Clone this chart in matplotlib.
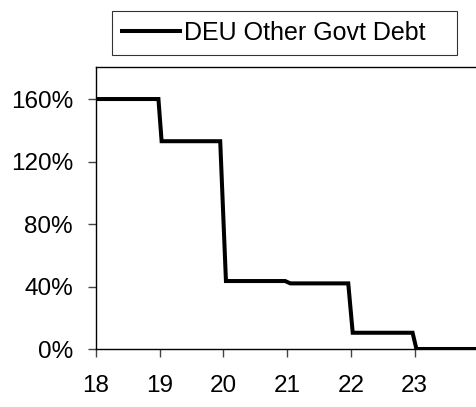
import matplotlib
matplotlib.use("Agg")
import matplotlib.pyplot as plt
from matplotlib.ticker import FuncFormatter

plt.rcParams['font.family'] = ['Liberation Sans', 'DejaVu Sans']

series_name = "DEU Other Govt Debt"
x_vals = [18.0, 18.98, 19.03, 19.95, 20.04, 20.97, 21.05, 21.96, 22.03, 22.97, 23.03, 24.2]
y_vals = [160, 160, 133, 133, 43.5, 43.5, 42, 42, 10.4, 10.4, 0, 0]
x_ticks = [18, 19, 20, 21, 22, 23]
y_ticks = [0, 40, 80, 120, 160]

W, H = 476, 407
fig = plt.figure(figsize=(W / 100, H / 100), dpi=100)
left, right, bottom, top = 96, 476 * 1.02, 349, 67
ax = fig.add_axes([left / W, (H - bottom) / H, (right - left) / W, (bottom - top) / H])

ax.plot(x_vals, y_vals, color='black', lw=2.9, solid_joinstyle='miter', label=series_name)

px_per_unit = 63.7
ax.set_xlim(18, 18 + (right - left) / px_per_unit)
ax.set_ylim(0, 180.5)
ax.set_xticks(x_ticks)
ax.set_yticks(y_ticks)
ax.yaxis.set_major_formatter(FuncFormatter(lambda v, p: f"{int(v)}%"))

for s in ['left', 'top', 'bottom']:
    ax.spines[s].set_color('black')
    ax.spines[s].set_linewidth(1.0)
ax.spines['right'].set_visible(False)

ax.tick_params(axis='y', direction='out', length=6, width=1, color='#444444',
               pad=10.5, labelsize=17.5, labelcolor='black')
ax.tick_params(axis='x', direction='out', length=6, width=1, color='#444444',
               pad=12.5, labelsize=17.5, labelcolor='black')

leg = fig.legend(loc='lower left', bbox_to_anchor=(112 / W, 1 - 55 / H, 345 / W, 45 / H),
                 mode='expand', borderaxespad=0,
                 fontsize=18, frameon=True, fancybox=False, edgecolor='black',
                 handlelength=2.3, handletextpad=0.2, borderpad=0.4)
leg.get_frame().set_linewidth(0.8)

fig.savefig("out.png", dpi=100)
